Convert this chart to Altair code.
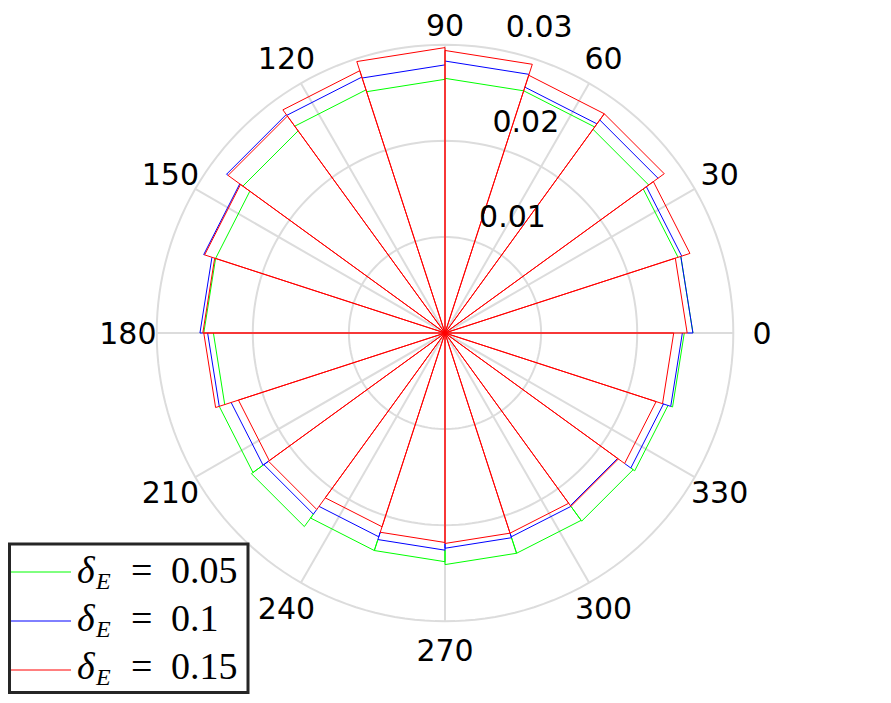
import altair as alt
import pandas as pd

# ---------------- data ----------------
n_bins = 20                      # rose bins of 18 degrees, first edge at 0
series = ["0.05", "0.1", "0.15"]
colors = ["#00ff00", "#0000ff", "#ff0000"]

green = [0.0258, 0.0255, 0.0262, 0.0265, 0.0265, 0.0264, 0.0266, 0.0260, 0.0251, 0.0251,
         0.0241, 0.0247, 0.0249, 0.0238, 0.0238, 0.0241, 0.0241, 0.0242, 0.0244, 0.0249]
blue = [0.0258, 0.0259, 0.0274, 0.0269, 0.0283, 0.0279, 0.0280, 0.0281, 0.0264, 0.0255,
        0.0247, 0.0234, 0.0233, 0.0223, 0.0226, 0.0224, 0.0223, 0.0222, 0.0239, 0.0247]
red = [0.0252, 0.0268, 0.0282, 0.0282, 0.0294, 0.0297, 0.0287, 0.0279, 0.0263, 0.0252,
       0.0251, 0.0226, 0.0227, 0.0212, 0.0218, 0.0219, 0.0219, 0.0223, 0.0231, 0.0238]
values = [green, blue, red]

ring_values = [0.01, 0.02, 0.03]
ring_labels = ["0.01", "0.02", "0.03"]
angle_ticks = list(range(0, 360, 30))
angle_labels = [str(a) for a in angle_ticks]
spoke_angles = list(range(0, 180, 30))
r_max = 0.03
label_r = 0.0330
label_top = 0.0320        # keeps the topmost label inside the page

# ---------------- layout ----------------
W, H = 875, 687
cx, cy = 437, 325          # centre of the polar plot in chart pixels
k = 9610.0                 # pixels per data unit
xs = alt.Scale(domain=[-cx / k, (W - cx) / k], nice=False, zero=False)
ys = alt.Scale(domain=[-(H - cy) / k, cy / k], nice=False, zero=False)
X = lambda f: alt.X(f, type="quantitative", scale=xs, axis=None)
Y = lambda f: alt.Y(f, type="quantitative", scale=ys, axis=None)
RAD = "PI/180"

# ---------------- grid ----------------
ring_df = pd.DataFrame([(rv, a) for rv in ring_values for a in range(0, 361, 2)],
                       columns=["ring", "ang"])
rings = alt.Chart(ring_df).transform_calculate(
    x=f"datum.ring*cos(datum.ang*{RAD})",
    y=f"datum.ring*sin(datum.ang*{RAD})",
).mark_line(color="#dcdcdc", strokeWidth=2).encode(
    x=X("x"), y=Y("y"), detail="ring:N", order="ang:Q")

spoke_df = pd.DataFrame({"ang": spoke_angles})
spokes = alt.Chart(spoke_df).transform_calculate(
    x=f"{r_max}*cos(datum.ang*{RAD})",
    y=f"{r_max}*sin(datum.ang*{RAD})",
    x2=f"-{r_max}*cos(datum.ang*{RAD})",
    y2=f"-{r_max}*sin(datum.ang*{RAD})",
).mark_rule(color="#dcdcdc", strokeWidth=2).encode(
    x=X("x"), y=Y("y"), x2="x2:Q", y2="y2:Q")

# ---------------- rose polygons ----------------
# Each bin: centre -> (edge1, r) -> (edge2, r) -> centre.  The radial part that is
# hidden beneath a later-drawn series' radial is not drawn, so that the top colour
# stays clean (as in the reference).
bw = 360.0 / n_bins


def cover(si, e):
    later = values[si + 1:]
    if not later:
        return 0.0
    return max(max(v[(e - 1) % n_bins], v[e % n_bins]) for v in later)


rose_layers = []
for si, (s, vals, c) in enumerate(zip(series, values, colors)):
    rows = []
    for i, v in enumerate(vals):
        e1, e2 = i * bw, (i + 1) * bw
        r1 = min(v, cover(si, i))
        r2 = min(v, cover(si, i + 1))
        for j, (a, r) in enumerate([(e1, r1), (e1, v), (e2, v), (e2, r2)]):
            rows.append({"bin": i, "seq": j, "ang": a, "r": r})
    df = pd.DataFrame(rows)
    rose_layers.append(
        alt.Chart(df).transform_calculate(
            x=f"datum.r*cos(datum.ang*{RAD})",
            y=f"datum.r*sin(datum.ang*{RAD})",
        ).mark_line(color=c, strokeWidth=1).encode(
            x=X("x"), y=Y("y"), detail="bin:N", order="seq:Q")
    )

# ---------------- labels ----------------
ang_df = pd.DataFrame({"ang": angle_ticks, "lab": angle_labels})
ang_text = alt.Chart(ang_df).transform_calculate(
    x=f"{label_r}*cos(datum.ang*{RAD})",
    y=f"min({label_r}*sin(datum.ang*{RAD}), {label_top})",
).mark_text(font="DejaVu Sans", fontSize=30, align="center", baseline="middle",
            dy=2, color="black").encode(x=X("x"), y=Y("y"), text="lab:N")

rl_df = pd.DataFrame({"v": ring_values, "lab": ring_labels})
r_text = alt.Chart(rl_df).transform_calculate(
    x=f"(datum.v+0.0005)*cos(82*{RAD})",
    y=f"(datum.v+0.0005)*sin(82*{RAD})",
).mark_text(font="DejaVu Sans", fontSize=30, align="left", baseline="bottom",
            dx=20, dy=0, color="black").encode(x=X("x"), y=Y("y"), text="lab:N")

# ---------------- legend ----------------
one = pd.DataFrame({"k": [0]})
legend_layers = [
    alt.Chart(one).mark_rect(fill="white", stroke="#262626", strokeWidth=3).encode(
        x=alt.value(1.5), x2=alt.value(240), y=alt.value(536), y2=alt.value(684.5))
]
line_y = [564, 613, 662]
base_y = [575, 623, 671]
serif = "Liberation Serif"
for s, c, ly, by in zip(series, colors, line_y, base_y):
    legend_layers += [
        alt.Chart(one).mark_rule(color=c, strokeWidth=1).encode(
            x=alt.value(3), x2=alt.value(63), y=alt.value(ly)),
        alt.Chart(one).mark_text(text="δ", font=serif, fontStyle="italic", fontSize=38,
                                 align="left", baseline="alphabetic", color="black").encode(
            x=alt.value(69), y=alt.value(by)),
        alt.Chart(one).mark_text(text="E", font=serif, fontStyle="italic", fontSize=24,
                                 align="left", baseline="alphabetic", color="black").encode(
            x=alt.value(88), y=alt.value(by + 6)),
        alt.Chart(one).mark_text(text="=", font=serif, fontSize=38,
                                 align="left", baseline="alphabetic", color="black").encode(
            x=alt.value(123), y=alt.value(by)),
        alt.Chart(one).mark_text(text=s, font=serif, fontSize=38,
                                 align="left", baseline="alphabetic", color="black").encode(
            x=alt.value(163), y=alt.value(by)),
    ]

chart = alt.layer(rings, spokes, *rose_layers, ang_text, r_text, *legend_layers).properties(
    width=W, height=H, autosize=alt.AutoSizeParams(type="none"), padding=0,
).configure_view(stroke=None)

chart.save("out.html", embed_options={"renderer": "svg", "actions": False})
